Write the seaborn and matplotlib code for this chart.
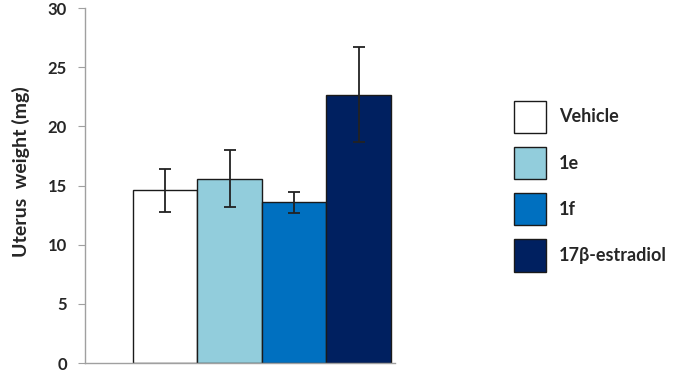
import numpy as np
import pandas as pd
import seaborn as sns
import matplotlib.pyplot as plt
from matplotlib.patches import Patch

# data
groups = ['Vehicle', '1e', '1f', '17β-estradiol']
weights = [14.6, 15.6, 13.6, 22.7]
errors = [1.8, 2.4, 0.9, 4.0]
colors = ['#FFFFFF', '#92CDDC', '#0070C0', '#002060']

sns.set_style('white')
plt.rcParams['font.family'] = ['Lato', 'DejaVu Sans']

df = pd.DataFrame({'group': groups, 'weight': weights})

fig = plt.figure(figsize=(6.75, 3.72), dpi=100)
ax = fig.add_axes([0.126, 0.024, 0.459, 0.954])

sns.barplot(data=df, x='group', y='weight', hue='group', palette=colors,
            saturation=1, width=1.0, edgecolor='#1a1a1a', linewidth=1.0,
            legend=False, ax=ax)
ax.errorbar(np.arange(len(groups)), weights, yerr=errors, fmt='none',
            ecolor='#222222', elinewidth=1.3, capsize=4, capthick=1.3)

ax.set_xlim(-1.24, 3.56)
ax.set_ylim(0, 30)
ax.set_yticks(range(0, 31, 5))
ax.set_xticks([])
ax.set_xlabel('')
ax.set_ylabel('Uterus  weight (mg)', fontsize=14, fontweight='bold')
ax.yaxis.set_label_coords(-0.178, 0.54)
for lab in ax.get_yticklabels():
    lab.set_fontweight('bold')
    lab.set_fontsize(12)
ax.tick_params(axis='y', left=True, length=5, color='#A0A0A0', pad=8)
sns.despine(ax=ax)
for s in ['left', 'bottom']:
    ax.spines[s].set_color('#A0A0A0')
    ax.spines[s].set_linewidth(1.0)

handles = [Patch(facecolor=c, edgecolor='#1a1a1a', linewidth=1.0) for c in colors]
fig.legend(handles, groups, loc='upper left', bbox_to_anchor=(0.748, 0.754),
           frameon=False, prop={'weight': 'bold', 'size': 13}, borderpad=0,
           handlelength=1.77, handleheight=2.4, labelspacing=0.75,
           handletextpad=0.72)

fig.savefig('out.png', dpi=100)
